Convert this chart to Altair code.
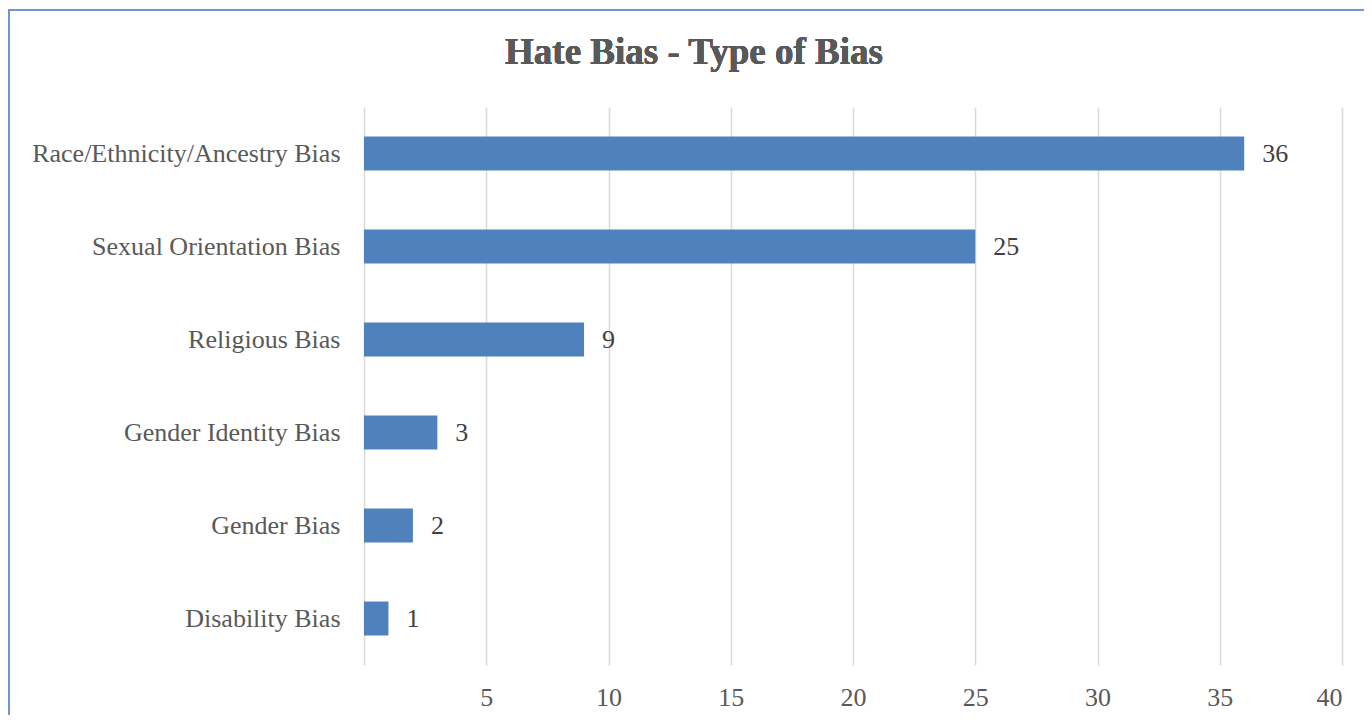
import altair as alt
import pandas as pd

categories = ["Race/Ethnicity/Ancestry Bias", "Sexual Orientation Bias", "Religious Bias",
              "Gender Identity Bias", "Gender Bias", "Disability Bias"]
values = [36, 25, 9, 3, 2, 1]
tick_values = [0, 5, 10, 15, 20, 25, 30, 35, 40]
title_text = "Hate Bias - Type of Bias"

df = pd.DataFrame({"category": categories, "count": values})

FONT = "Liberation Serif"
W, H = 978, 558

y_enc = alt.Y("category:N", sort=categories, title=None,
              scale=alt.Scale(paddingInner=0.635, paddingOuter=0.3175),
              axis=alt.Axis(domain=False, ticks=False, labelFont=FONT, labelFontSize=26,
                            labelColor="#595959", labelPadding=24, labelLimit=400))
x_enc = alt.X("count:Q", title=None, scale=alt.Scale(domain=[0, 40], nice=False),
              axis=alt.Axis(values=tick_values, domain=False, ticks=False, grid=True,
                            gridColor="#D9D9D9", gridWidth=1.5,
                            labelExpr="datum.value == 0 ? '' : datum.label",
                            labelFont=FONT, labelFontSize=26, labelColor="#595959",
                            labelPadding=19))

bars = alt.Chart(df).mark_bar(color="#4F81BD").encode(x=x_enc, y=y_enc)
labels = alt.Chart(df).mark_text(align="left", baseline="middle", dx=18, font=FONT,
                                 fontSize=26, color="#404040").encode(
    x="count:Q", y=alt.Y("category:N", sort=categories), text="count:Q")

title = alt.Chart(df).mark_text(font=FONT, fontSize=37, fontWeight="bold", color="#595959",
                                align="center", baseline="middle").encode(
    x=alt.value(330), y=alt.value(-54), text=alt.value(title_text))

border_left = alt.Chart(df).mark_rule(color="#7096CF", strokeWidth=2).encode(
    x=alt.value(-355), y=alt.value(-97), y2=alt.value(720))
border_top = alt.Chart(df).mark_rule(color="#7096CF", strokeWidth=2).encode(
    x=alt.value(-356), x2=alt.value(1100), y=alt.value(-97))

chart = alt.layer(border_left, border_top, bars, labels, title).properties(
    width=W, height=H,
    autosize=alt.AutoSizeParams(type="none"),
    padding={"left": 356, "top": 99, "right": 22, "bottom": 50},
).configure_view(stroke=None)

chart.save("out.html", embed_options={"renderer": "svg", "actions": False})
